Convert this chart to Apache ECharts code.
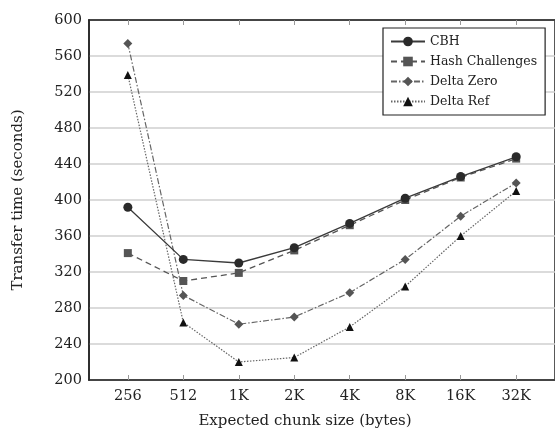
<!DOCTYPE html>
<html>
<head>
<meta charset="utf-8">
<script src="https://cdn.jsdelivr.net/npm/echarts@6/dist/echarts.min.js"></script>
<style>html,body{margin:0;padding:0;background:#fff}#c{width:555px;height:434px}</style>
</head>
<body>
<div id="c"></div>
<script>
var categories = ['256', '512', '1K', '2K', '4K', '8K', '16K', '32K'];
var cbh = [392, 334, 330, 347, 374, 402, 426, 448];
var hashChallenges = [341, 310, 319, 344, 372, 400, 425, 446];
var deltaZero = [574, 294, 262, 270, 297, 334, 382, 419];
var deltaRef = [539, 264, 220, 225, 259, 304, 360, 410];

var font = 'DejaVu Serif';
function pts(arr) { return arr.map(function (v, i) { return [i, v]; }); }
var idx = categories.map(function (c, i) { return i; });

var chart = echarts.init(document.getElementById('c'), null, { renderer: 'canvas' });
chart.setOption({
  animation: false,
  backgroundColor: '#fff',
  grid: { left: 89, right: -5, top: 20, bottom: 54, show: true, borderColor: '#222', borderWidth: 1.5, backgroundColor: 'transparent' },
  legend: {
    orient: 'vertical', left: 383, top: 28,
    backgroundColor: '#fff', borderColor: '#222', borderWidth: 1.2,
    padding: [7, 8, 7, 7], itemWidth: 34, itemHeight: 12, itemGap: 7,
    textStyle: { fontFamily: font, fontSize: 12.5, color: '#222' },
    data: ['CBH', 'Hash Challenges', 'Delta Zero', 'Delta Ref']
  },
  xAxis: [{
    type: 'value', min: -0.7, max: 7.7,
    axisLine: { show: true, onZero: false, lineStyle: { color: '#222', width: 1.5 } },
    axisTick: { show: true, inside: true, length: 5, customValues: idx, lineStyle: { color: '#999' } },
    axisLabel: { customValues: idx, margin: 9, fontFamily: font, fontSize: 14.5, color: '#222',
      formatter: function (v) { return categories[Math.round(v)]; } },
    splitLine: { show: false }
  }, {
    type: 'value', min: -0.7, max: 7.7, position: 'top',
    axisLine: { show: true, onZero: false, lineStyle: { color: '#222', width: 1.5 } },
    axisTick: { show: true, inside: true, length: 5, customValues: idx, lineStyle: { color: '#999' } },
    axisLabel: { show: false },
    splitLine: { show: false }
  }],
  yAxis: {
    type: 'value', min: 200, max: 600, interval: 40,
    axisLine: { show: true, onZero: false, lineStyle: { color: '#222', width: 1.5 } },
    axisTick: { show: false },
    axisLabel: { margin: 7, fontFamily: font, fontSize: 14.5, color: '#222' },
    splitLine: { show: true, lineStyle: { color: '#cfcfcf', width: 1.5 } }
  },
  graphic: [
    { type: 'text', x: 18, y: 200, rotation: Math.PI / 2, style: { text: 'Transfer time (seconds)', font: '15px "' + font + '"', fill: '#222', align: 'center', verticalAlign: 'middle' } },
    { type: 'text', x: 305, y: 421, style: { text: 'Expected chunk size (bytes)', font: '15px "' + font + '"', fill: '#222', align: 'center', verticalAlign: 'middle' } }
  ],
  series: [
    { name: 'CBH', type: 'line', data: pts(cbh), symbol: 'circle', symbolSize: 9,
      itemStyle: { color: '#2a2a2a' }, lineStyle: { color: '#3a3a3a', width: 1.3, type: 'solid' }, z: 5 },
    { name: 'Hash Challenges', type: 'line', data: pts(hashChallenges), symbol: 'rect', symbolSize: 8,
      itemStyle: { color: '#555' }, lineStyle: { color: '#555', width: 1.3, type: [6, 4] }, z: 4 },
    { name: 'Delta Zero', type: 'line', data: pts(deltaZero), symbol: 'diamond', symbolSize: 9,
      itemStyle: { color: '#555' }, lineStyle: { color: '#666', width: 1.2, type: [6, 2, 1.5, 2] }, z: 3 },
    { name: 'Delta Ref', type: 'line', data: pts(deltaRef), symbol: 'triangle', symbolSize: 8,
      itemStyle: { color: '#111' }, lineStyle: { color: '#666', width: 1.2, type: [1.5, 1.5] }, z: 2 }
  ]
});
</script>
</body>
</html>
